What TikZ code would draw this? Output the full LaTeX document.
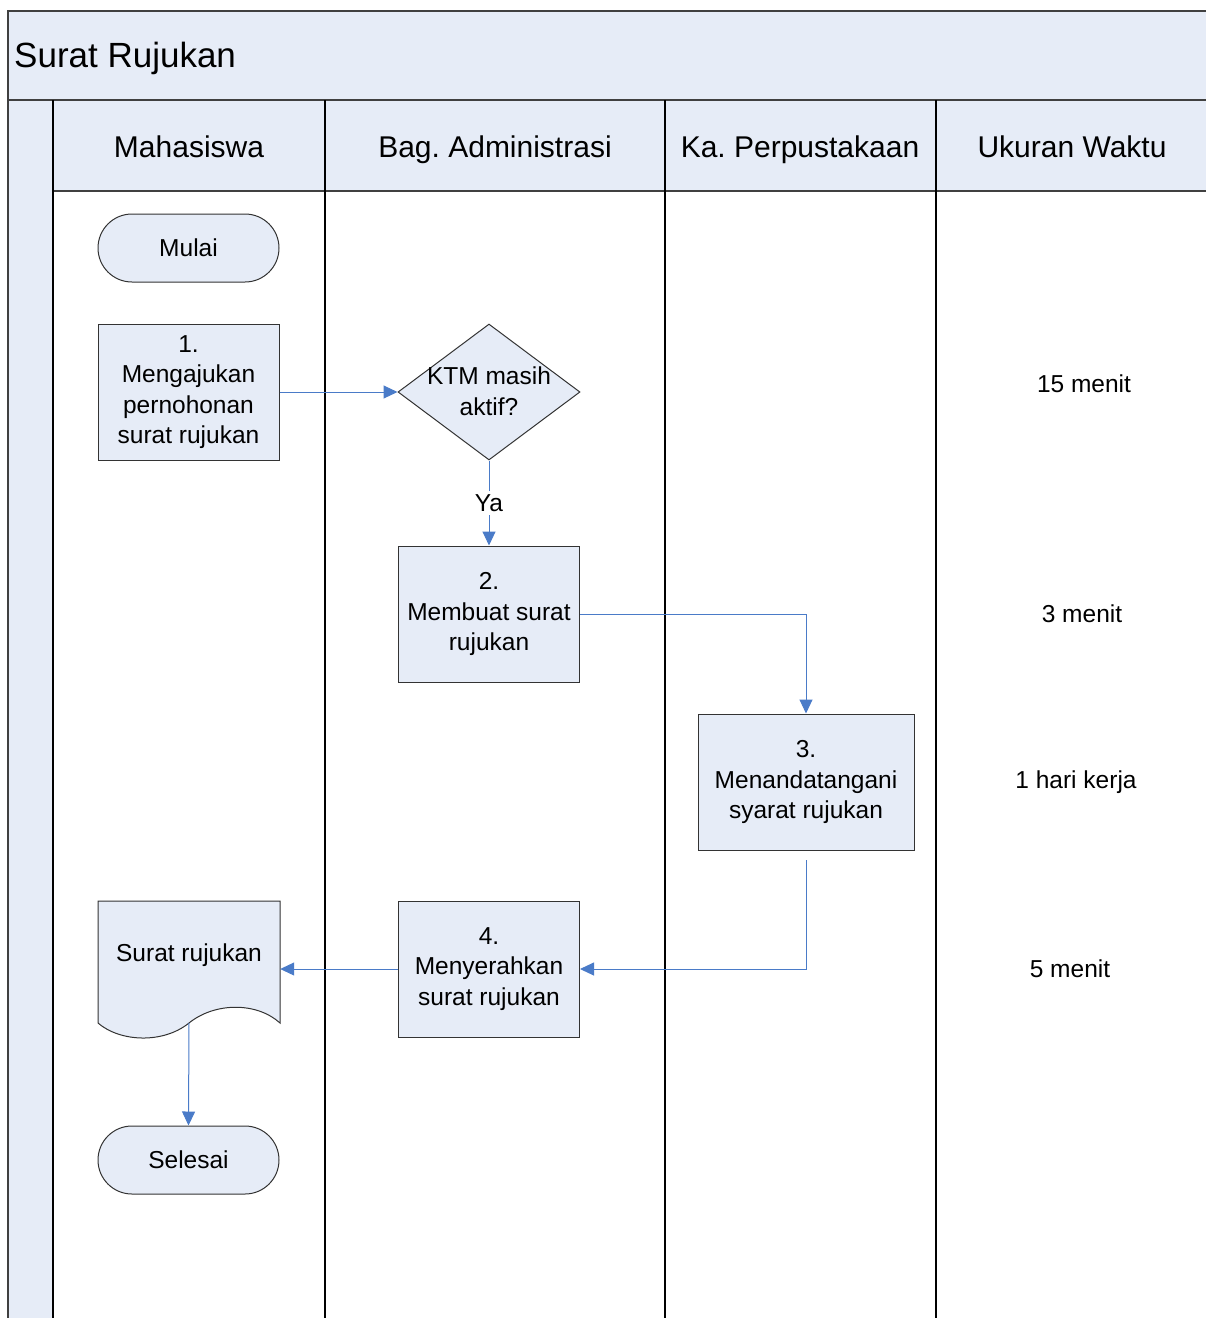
\documentclass[tikz,border=0pt]{standalone}
\usepackage{fontspec}
\setmainfont{Liberation Sans}
\frenchspacing
\usetikzlibrary{arrows.meta,shapes.geometric}
\definecolor{lanefill}{HTML}{E6ECF7}
\definecolor{flowblue}{HTML}{4A7BC8}
\definecolor{edgegray}{HTML}{333333}
\definecolor{ruledark}{HTML}{404040}
\begin{document}
\begin{tikzpicture}[x=1pt,y=-1pt,
  bodyfont/.style={font=\fontsize{24.5}{30.5}\selectfont},
  proc/.style={draw=edgegray, line width=1pt, fill=lanefill, minimum width=181pt,
    minimum height=136pt, align=center, inner sep=0pt, bodyfont},
  terminal/.style={draw=edgegray, line width=1pt, fill=lanefill, minimum width=181pt,
    minimum height=68pt, rounded corners=34pt, inner sep=0pt, bodyfont},
  decision/.style={diamond, draw=edgegray, line width=1pt, fill=lanefill, aspect=1.338,
    minimum width=182pt, minimum height=136pt, inner sep=0pt},
  txt/.style={align=center, inner sep=0pt, bodyfont},
  lanehead/.style={anchor=base, inner sep=0pt, font=\fontsize{30}{36}\selectfont},
  lanerule/.style={line width=1.5pt, draw=black},
  flow/.style={draw=flowblue, line width=1pt, -{Triangle[length=14pt,width=13pt]}},
  yalabel/.style={fill=white, inner sep=3pt, bodyfont}
]
\useasboundingbox (0,0) rectangle (1206,1318);

% pool background: title band, header row, left strip
\fill[lanefill] (8,11) rectangle (1206,100);
\fill[lanefill] (53,100) rectangle (1206,191);
\fill[lanefill] (8,100) rectangle (53,1318);

% pool frame and lane rules
\draw[line width=1.2pt, ruledark] (8,1318) -- (8,11) -- (1206,11);
\draw[line width=2pt, ruledark] (8,100) -- (1206,100);
\draw[line width=1.5pt, ruledark] (53,191) -- (1206,191);
\foreach \lx in {53,325,665,936} \draw[lanerule] (\lx,100) -- (\lx,1318);

% titles
\node[anchor=base west, inner sep=0pt, font=\fontsize{35}{42}\selectfont] (pooltitle) at (14,67) {Surat Rujukan};
\node[lanehead] (h1) at (189,157) {Mahasiswa};
\node[lanehead] (h2) at (495,157) {Bag. Administrasi};
\node[lanehead] (h3) at (800,157) {Ka. Perpustakaan};
\node[lanehead] (h4) at (1072,157) {Ukuran Waktu};

% flow elements
\node[terminal] (start) at (188.5,248) {Mulai};
\node[proc] (b1) at (188.5,392) {1.\\Mengajukan\\pernohonan\\surat rujukan};
\node[decision] (dec) at (489,392) {};
\node[txt] (dectxt) at (489,391) {KTM masih\\aktif?};
\node[proc] (b2) at (489,614) {2.\\Membuat surat\\rujukan};
\node[proc, minimum width=216pt] (b3) at (806,782) {3.\\Menandatangani\\syarat rujukan};
\node[proc] (b4) at (489,969) {4.\\Menyerahkan\\surat rujukan};

% document shape with wavy bottom
\draw[draw=edgegray, line width=1pt, fill=lanefill]
  (98,901) -- (280,901) -- (280,1023)
  .. controls (257,1002) and (215,1002) .. (189,1023)
  .. controls (163,1044) and (120,1042) .. (98,1023) -- cycle;
\node[minimum width=182pt, minimum height=136pt, inner sep=0pt] (doc) at (189,969) {};
\node[txt] (doctxt) at (189,955) {Surat rujukan};
\coordinate (docbot) at (189,1023);

\node[terminal] (end) at (188.5,1160) {Selesai};

% time labels
\node[txt] (t1) at (1084,384) {15 menit};
\node[txt] (t2) at (1082,614) {3 menit};
\node[txt] (t3) at (1076,782) {1 hari kerja};
\node[txt] (t4) at (1070,969) {5 menit};

% connectors
\coordinate (b3out) at (806,860);
\draw[flow] (b1.east) -- (dec.west);
\draw[flow] (dec.south) -- node[yalabel] (ya) {Ya} (b2.north);
\draw[flow] (b2.east) -| (b3.north);
\draw[flow] (b3out) |- (b4.east);
\draw[flow] (b4.west) -- (doc.east);
\draw[flow] (docbot) -- (end.north);
\end{tikzpicture}
\end{document}
